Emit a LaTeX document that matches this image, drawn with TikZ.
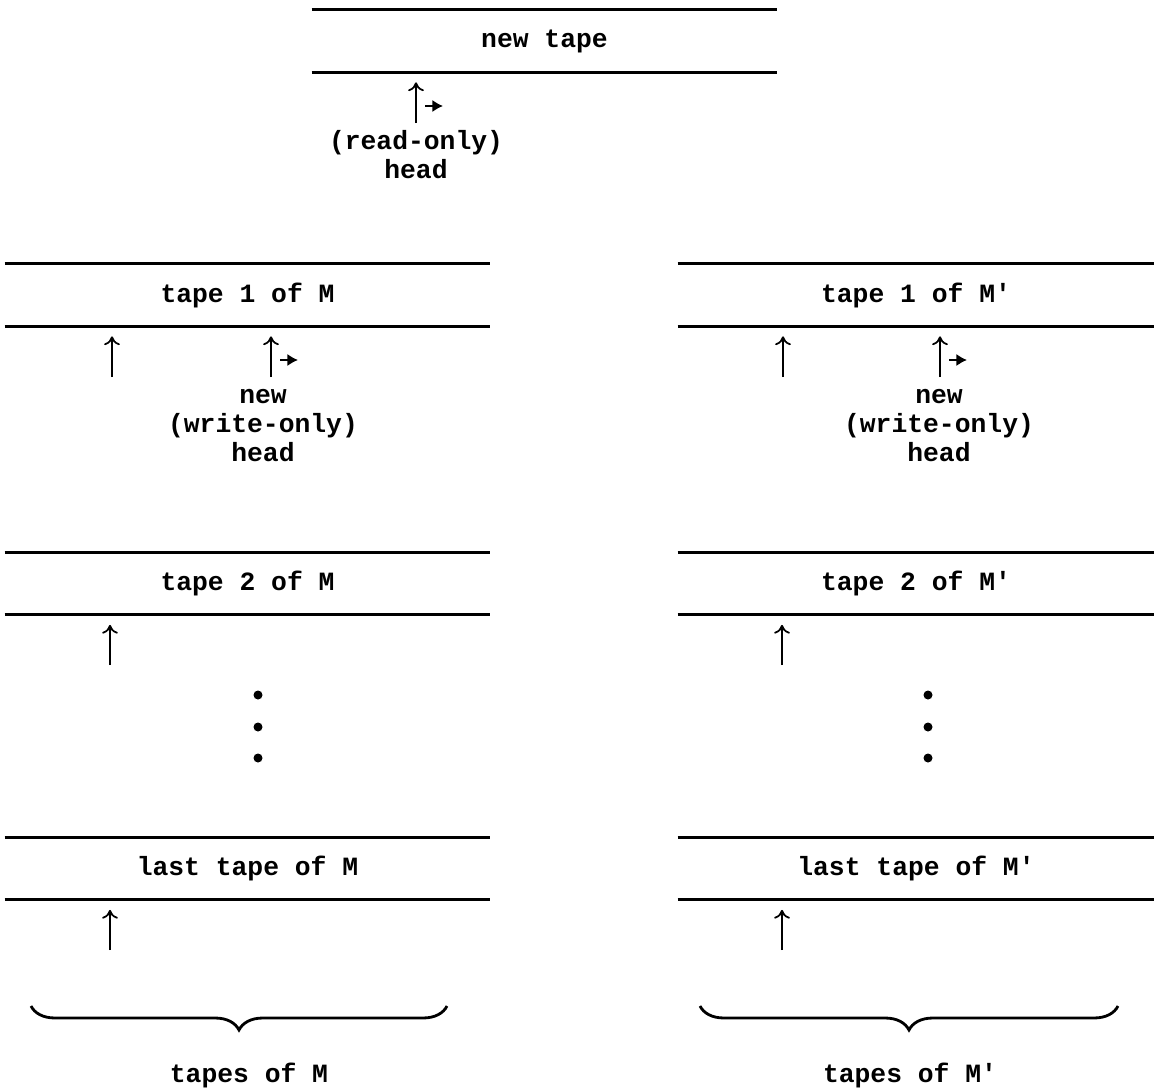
\documentclass[tikz,border=0pt]{standalone}
\usepackage{fontspec}
\setmonofont{Liberation Mono}
\usepackage{tikz}
\usetikzlibrary{shapes,arrows,arrows.meta,positioning,decorations.pathreplacing}
\newcommand{\tapefont}{\ttfamily\bfseries\fontsize{15}{16.5}\selectfont}
\tikzstyle{tape} = [rectangle, minimum height=1.24cm, inner sep=0pt, font=\tapefont]
\tikzstyle{tapeline} = [line width=1.6pt]
\tikzstyle{headarrow} = [-{To[length=5pt,width=9pt]}, line width=1pt, shorten >=0.2cm]
\tikzstyle{movearrow} = [-{Latex[length=6pt,width=7pt]}, line width=1.6pt]
\tikzstyle{headtext} = [align=center, inner sep=0pt, font=\tapefont]
\tikzstyle{tapebrace} = [decorate, decoration={brace, mirror, amplitude=0.48cm}, line width=1.6pt]
\tikzstyle{vdot} = [circle, fill, inner sep=0pt, minimum size=0.18cm]

\begin{document}
\begin{tikzpicture}
\useasboundingbox (0,0) rectangle (23.08,-21.82);

% the tapes
\node[tape, minimum width=9.30cm] (newtape) at (10.89,-0.82) {new tape};
\node[tape, minimum width=9.70cm] (tapeA) at (4.95,-5.90) {tape 1 of M};
\node[tape, minimum width=9.52cm] (tapeB) at (18.32,-5.90) {tape 1 of M'};
\node[tape, minimum width=9.70cm] (tapeAtwo) at (4.95,-11.67) {tape 2 of M};
\node[tape, minimum width=9.52cm] (tapeBtwo) at (18.32,-11.67) {tape 2 of M'};
\node[tape, minimum width=9.70cm] (tapeAlast) at (4.95,-17.37) {last tape of M};
\node[tape, minimum width=9.52cm] (tapeBlast) at (18.32,-17.37) {last tape of M'};
\foreach \t in {newtape,tapeA,tapeB,tapeAtwo,tapeBtwo,tapeAlast,tapeBlast}{
  \draw[tapeline] (\t.north west) -- (\t.north east);
  \draw[tapeline] (\t.south west) -- (\t.south east);
}

% read-only head on the new tape
\node[headtext] (rohead) at (8.32,-3.09) {(read-only)\\head};
\coordinate (robase) at (8.32,-2.46);
\draw[headarrow] (robase) -- (robase |- newtape.south);
\coordinate (romove) at (8.50,-2.12);
\draw[movearrow] (romove) -- ++(0.36,0);

% heads on tape 1
\coordinate (headA) at (2.24,-7.54);
\draw[headarrow] (headA) -- (headA |- tapeA.south);
\node[headtext] (woheadA) at (5.26,-8.51) {new\\(write-only)\\head};
\coordinate (wobaseA) at (5.42,-7.54);
\draw[headarrow] (wobaseA) -- (wobaseA |- tapeA.south);
\coordinate (womoveA) at (5.60,-7.20);
\draw[movearrow] (womoveA) -- ++(0.36,0);

\coordinate (headB) at (15.66,-7.54);
\draw[headarrow] (headB) -- (headB |- tapeB.south);
\node[headtext] (woheadB) at (18.78,-8.51) {new\\(write-only)\\head};
\coordinate (wobaseB) at (18.80,-7.54);
\draw[headarrow] (wobaseB) -- (wobaseB |- tapeB.south);
\coordinate (womoveB) at (18.98,-7.20);
\draw[movearrow] (womoveB) -- ++(0.36,0);

% heads on tape 2 and last tape
\coordinate (headAtwo) at (2.20,-13.30);
\draw[headarrow] (headAtwo) -- (headAtwo |- tapeAtwo.south);
\coordinate (headBtwo) at (15.64,-13.30);
\draw[headarrow] (headBtwo) -- (headBtwo |- tapeBtwo.south);
\coordinate (headAlast) at (2.20,-19.00);
\draw[headarrow] (headAlast) -- (headAlast |- tapeAlast.south);
\coordinate (headBlast) at (15.64,-19.00);
\draw[headarrow] (headBlast) -- (headBlast |- tapeBlast.south);

% dots
\foreach \y [count=\i] in {-13.90,-14.54,-15.16}{
  \node[vdot] (dotA\i) at (5.16,\y) {};
  \node[vdot] (dotB\i) at (18.56,\y) {};
}

% braces
\coordinate (braceAl) at (0.62,-20.12);
\coordinate (braceAr) at (8.94,-20.12);
\coordinate (braceBl) at (14.00,-20.12);
\coordinate (braceBr) at (22.36,-20.12);
\draw[tapebrace] (braceAl) -- (braceAr);
\draw[tapebrace] (braceBl) -- (braceBr);
\node[headtext] (tapesA) at (4.98,-21.50) {tapes of M};
\node[headtext] (tapesB) at (18.20,-21.50) {tapes of M'};
\end{tikzpicture}
\end{document}
